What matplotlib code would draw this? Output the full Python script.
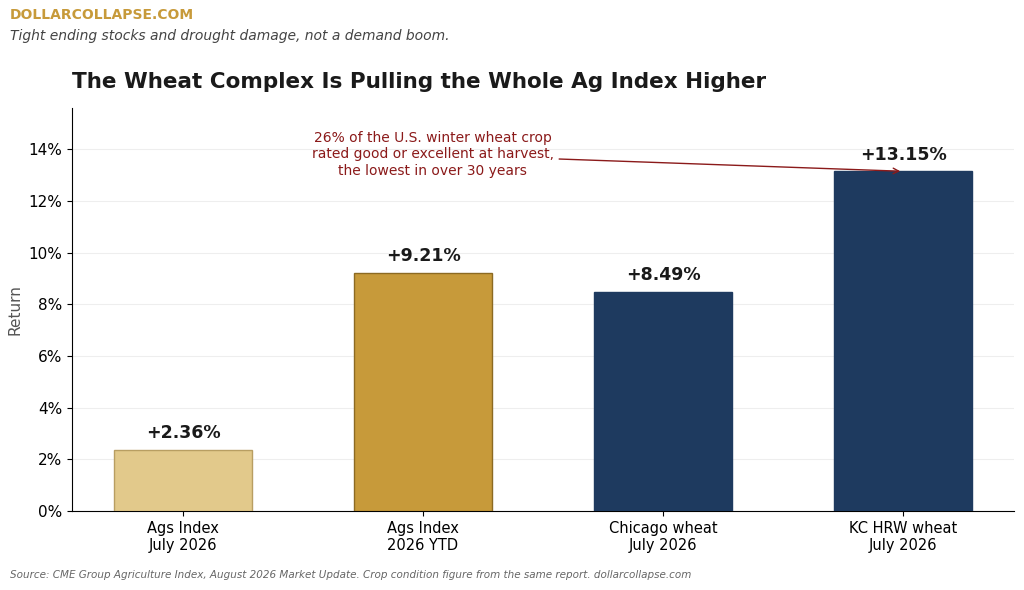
import matplotlib.pyplot as plt
from matplotlib.ticker import PercentFormatter

# data
labels = ["Ags Index\nJuly 2026", "Ags Index\n2026 YTD", "Chicago wheat\nJuly 2026", "KC HRW wheat\nJuly 2026"]
returns = [2.36, 9.21, 8.49, 13.15]
colors = ["#E2C98B", "#C79A3A", "#1E3A5F", "#1E3A5F"]
edges = ["#B89E62", "#8C6A22", "#1E3A5F", "#1E3A5F"]

fig = plt.figure(figsize=(10.24, 5.9), dpi=100)
ax = fig.add_axes([72/1024, 1-511/590, 942/1024, 403/590])

x = range(len(returns))
ax.bar(x, returns, width=0.575, color=colors, edgecolor=edges, linewidth=1, zorder=3)
for i, v in zip(x, returns):
    ax.text(i, v + 0.3, f"+{v:.2f}%", ha="center", va="bottom", fontsize=12.5, fontweight="bold", color="#1a1a1a")

ax.set_xlim(-0.4625, 3.4625)
ax.set_ylim(0, 15.6)
ax.set_yticks(range(0, 15, 2))
ax.yaxis.set_major_formatter(PercentFormatter(decimals=0))
ax.set_xticks(list(x))
ax.set_xticklabels(labels, fontsize=10.5)
ax.tick_params(axis="y", labelsize=11)
ax.grid(axis="y", color="#eeeeee", linewidth=0.8, zorder=0)
ax.spines["top"].set_visible(False)
ax.spines["right"].set_visible(False)
ax.set_ylabel("Return", fontsize=11, color="#555555")

ax.annotate("26% of the U.S. winter wheat crop\nrated good or excellent at harvest,\nthe lowest in over 30 years",
            xy=(3.0, 13.15), xytext=(1.04, 13.8), ha="center", va="center",
            fontsize=10, color="#8B1A1A",
            arrowprops=dict(arrowstyle="->", color="#8B1A1A", lw=1))

ax.set_title("The Wheat Complex Is Pulling the Whole Ag Index Higher", fontsize=15.5,
             fontweight="bold", loc="left", x=0.0, y=1.03, color="#1a1a1a")
fig.text(10/1024, 1-15/590, "DOLLARCOLLAPSE.COM", fontsize=10, fontweight="bold", color="#C79A3A", va="center")
fig.text(10/1024, 1-36/590, "Tight ending stocks and drought damage, not a demand boom.", fontsize=10,
         style="italic", color="#444444", va="center")
fig.text(10/1024, 1-575/590, "Source: CME Group Agriculture Index, August 2026 Market Update. Crop condition figure from the same report. dollarcollapse.com",
         fontsize=7.5, style="italic", color="#666666", va="center")

fig.savefig("out.png", dpi=100)
